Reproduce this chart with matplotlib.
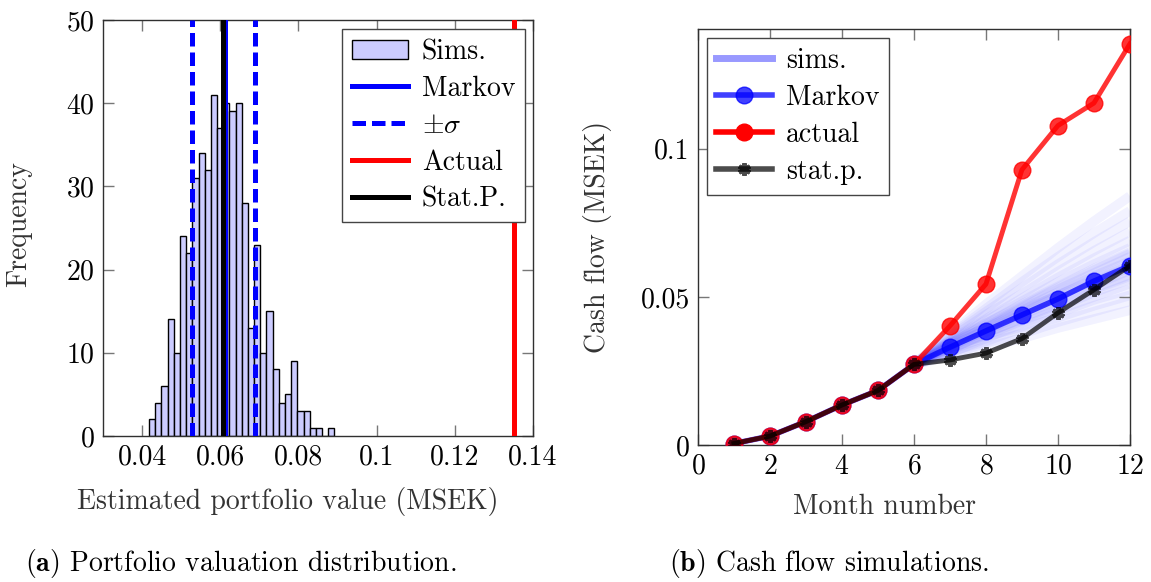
import numpy as np
import matplotlib
matplotlib.use("Agg")
import matplotlib.pyplot as plt
from matplotlib.lines import Line2D

plt.rcParams["font.family"] = ["cmr10", "DejaVu Serif"]
plt.rcParams["mathtext.fontset"] = "cm"
plt.rcParams["axes.formatter.use_mathtext"] = True
plt.rcParams["axes.unicode_minus"] = False

# ---- portfolio valuation histogram (500 simulations) ----
bin_lo, bin_hi = 0.0418, 0.0892
hist_counts = [2, 4, 6, 14, 10, 24, 22, 31, 34, 32, 41, 37, 40, 39, 40,
               28, 13, 23, 10, 15, 8, 4, 5, 9, 3, 3, 1, 1, 0, 1]
markov_value = 0.0612
sigma_low, sigma_high = 0.0527, 0.0688
actual_value = 0.1352
statp_value = 0.0607

hist_xticks = [0.04, 0.06, 0.08, 0.10, 0.12, 0.14]
hist_xticklabels = ["0.04", "0.06", "0.08", "0.1", "0.12", "0.14"]
hist_yticks = [0, 10, 20, 30, 40, 50]

# ---- monthly cash flow ----
months = [1, 2, 3, 4, 5, 6, 7, 8, 9, 10, 11, 12]
cf_actual = [0.0005, 0.0030, 0.0079, 0.0135, 0.0184, 0.0272,
             0.0402, 0.0543, 0.0929, 0.1078, 0.1154, 0.1354]
cf_markov = [0.0005, 0.0030, 0.0079, 0.0135, 0.0184, 0.0272,
             0.0330, 0.0385, 0.0439, 0.0493, 0.0553, 0.0605]
cf_statp = [0.0005, 0.0030, 0.0079, 0.0135, 0.0184, 0.0272,
            0.0287, 0.0310, 0.0359, 0.0446, 0.0524, 0.0605]

sim_months = [6, 7, 8, 9, 10, 11, 12]
sim_paths = [
    [0.0272, 0.0300, 0.0330, 0.0360, 0.0395, 0.0425, 0.0455],
    [0.0272, 0.0305, 0.0345, 0.0375, 0.0415, 0.0450, 0.0485],
    [0.0272, 0.0315, 0.0350, 0.0395, 0.0430, 0.0470, 0.0505],
    [0.0272, 0.0320, 0.0365, 0.0400, 0.0445, 0.0490, 0.0525],
    [0.0272, 0.0310, 0.0360, 0.0410, 0.0455, 0.0500, 0.0545],
    [0.0272, 0.0330, 0.0370, 0.0420, 0.0465, 0.0515, 0.0560],
    [0.0272, 0.0320, 0.0380, 0.0425, 0.0475, 0.0530, 0.0575],
    [0.0272, 0.0335, 0.0385, 0.0440, 0.0490, 0.0540, 0.0590],
    [0.0272, 0.0330, 0.0390, 0.0445, 0.0500, 0.0550, 0.0600],
    [0.0272, 0.0340, 0.0395, 0.0450, 0.0505, 0.0560, 0.0610],
    [0.0272, 0.0335, 0.0400, 0.0460, 0.0515, 0.0570, 0.0620],
    [0.0272, 0.0345, 0.0405, 0.0465, 0.0525, 0.0580, 0.0635],
    [0.0272, 0.0340, 0.0410, 0.0475, 0.0535, 0.0595, 0.0650],
    [0.0272, 0.0350, 0.0420, 0.0485, 0.0550, 0.0610, 0.0665],
    [0.0272, 0.0355, 0.0425, 0.0495, 0.0565, 0.0630, 0.0690],
    [0.0272, 0.0360, 0.0440, 0.0510, 0.0585, 0.0655, 0.0720],
    [0.0272, 0.0365, 0.0450, 0.0530, 0.0610, 0.0685, 0.0755],
    [0.0272, 0.0370, 0.0460, 0.0550, 0.0635, 0.0715, 0.0790],
    [0.0272, 0.0375, 0.0475, 0.0570, 0.0665, 0.0755, 0.0840],
    [0.0272, 0.0345, 0.0395, 0.0455, 0.0505, 0.0555, 0.0605],
    [0.0272, 0.0325, 0.0375, 0.0430, 0.0480, 0.0525, 0.0570],
    [0.0272, 0.0350, 0.0410, 0.0470, 0.0530, 0.0590, 0.0645],
]

cf_xticks = [0, 2, 4, 6, 8, 10, 12]
cf_yticks = [0, 0.05, 0.1]
cf_yticklabels = ["0", "0.05", "0.1"]

FS = 20
label_col = "#333333"
tick_col = "#777777"

fig = plt.figure(figsize=(11.51, 5.82), dpi=100)


def style_axes(ax):
    ax.tick_params(direction="in", top=True, right=True, length=8,
                   width=1, color=tick_col, labelsize=FS, pad=6)
    for s in ax.spines.values():
        s.set_color("#303030")
        s.set_linewidth(1.0)


# ---- left panel: histogram ----
ax1 = fig.add_axes([0.0895, 0.2509, 0.3736, 0.7148])
edges = np.linspace(bin_lo, bin_hi, len(hist_counts) + 1)
bars = ax1.bar(edges[:-1], hist_counts, width=np.diff(edges), align="edge",
               color="#ccccff", edgecolor="black", linewidth=1.0,
               label="Sims.", zorder=2)
l_markov = ax1.axvline(markov_value, color="blue", lw=3.6, zorder=3,
                       label="Markov")
ax1.axvline(sigma_low, color="blue", lw=3.6, ls=(0, (2.7, 1.2)), zorder=3)
l_sigma = ax1.axvline(sigma_high, color="blue", lw=3.6, ls=(0, (2.7, 1.2)),
                      zorder=3, label=r"$\pm\sigma$")
l_actual = ax1.axvline(actual_value, color="red", lw=3.6, zorder=3,
                       label="Actual")
l_statp = ax1.axvline(statp_value, color="black", lw=3.6, zorder=4,
                      label="Stat.P.")

ax1.set_xlim(0.03, 0.14)
ax1.set_ylim(0, 50)
ax1.set_xticks(hist_xticks)
ax1.set_xticklabels(hist_xticklabels)
ax1.set_yticks(hist_yticks)
style_axes(ax1)
ax1.set_xlabel("Estimated portfolio value (MSEK)", fontsize=FS, color=label_col)
ax1.set_ylabel("Frequency", fontsize=FS, color=label_col)
ax1.xaxis.set_label_coords(0.43, -0.122)
ax1.yaxis.set_label_coords(-0.165, 0.51)

leg1 = ax1.legend(handles=[bars, l_markov, l_sigma, l_actual, l_statp],
                  loc="upper right", bbox_to_anchor=(0.981, 0.978),
                  fontsize=FS, frameon=True, fancybox=False,
                  edgecolor="#444444", framealpha=1, handlelength=2.0,
                  handleheight=0.7, labelspacing=0.38, borderpad=0.35,
                  handletextpad=0.5, borderaxespad=0)
leg1.get_frame().set_linewidth(1.0)

# ---- right panel: cash flow simulations ----
ax2 = fig.add_axes([0.6064, 0.2354, 0.3753, 0.7148])
for path in sim_paths:
    ax2.plot(sim_months, path, color="blue", alpha=0.05, lw=7,
             solid_capstyle="butt", zorder=1)
ax2.plot(months, cf_markov, color="blue", alpha=0.75, lw=4, marker="o",
         ms=12, zorder=3)
ax2.plot(months, cf_actual, color="red", alpha=0.8, lw=3.5, marker="o",
         ms=12, zorder=4)
ax2.plot(months, cf_statp, color="black", alpha=0.7, lw=3.5,
         marker=(6, 2, 0), ms=9, mew=3, zorder=5)

ax2.set_xlim(0, 12)
ax2.set_ylim(0, 0.1404)
ax2.set_xticks(cf_xticks)
ax2.set_yticks(cf_yticks)
ax2.set_yticklabels(cf_yticklabels)
style_axes(ax2)
ax2.set_xlabel("Month number", fontsize=FS, color=label_col)
ax2.set_ylabel("Cash flow (MSEK)", fontsize=FS, color=label_col)
ax2.xaxis.set_label_coords(0.432, -0.118)
ax2.yaxis.set_label_coords(-0.199, 0.5)

h_sims = Line2D([], [], color="blue", alpha=0.4, lw=5)
h_markov = Line2D([], [], color="blue", alpha=0.75, lw=4, marker="o", ms=12)
h_actual = Line2D([], [], color="red", lw=4, marker="o", ms=12)
h_statp = Line2D([], [], color="black", alpha=0.7, lw=4,
                 marker=(6, 2, 0), ms=9, mew=3)
leg2 = ax2.legend([h_sims, h_markov, h_actual, h_statp],
                  ["sims.", "Markov", "actual", "stat.p."],
                  loc="upper left", bbox_to_anchor=(0.02, 0.978),
                  fontsize=FS, frameon=True, fancybox=False,
                  edgecolor="#444444", framealpha=1, handlelength=2.0,
                  labelspacing=0.38, borderpad=0.35, handletextpad=0.5,
                  borderaxespad=0, numpoints=1)
leg2.get_frame().set_linewidth(1.0)

# ---- sub-captions ----
fig.text(241 / 1151, 1 - 563 / 582, r"$\mathbf{(a)}$ Portfolio valuation distribution.",
         ha="center", va="center", fontsize=FS)
fig.text(829 / 1151, 1 - 563 / 582, r"$\mathbf{(b)}$ Cash flow simulations.",
         ha="center", va="center", fontsize=FS)

fig.savefig("out.png", dpi=100)
